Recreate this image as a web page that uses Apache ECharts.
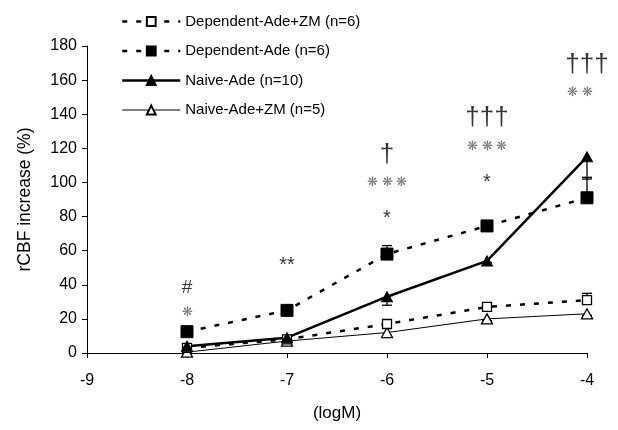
<!DOCTYPE html>
<html><head><meta charset="utf-8">
<script src="https://cdn.jsdelivr.net/npm/echarts@6/dist/echarts.min.js"></script>
<style>html,body{margin:0;padding:0;background:#fff}#c{width:618px;height:430px}</style>
</head><body><div id="c"></div>
<script>
const xValues = [-8, -7, -6, -5, -4];
const depZM = [3, 8, 17, 27, 31];
const depZMErr = [1, 1, 2, 2, 4];
const depAde = [12.5, 25, 58, 74.5, 91];
const depAdeErr = [2, 2, 5, 2, 12];
const naiveAde = [4, 9, 33, 54, 115];
const naiveAdeErr = [1, 2, 5, 1, 13];
const naiveZM = [0.5, 7, 12, 20, 23];
const naiveZMErr = [1, 1, 2, 1, 1];
const seriesNames = ['Dependent-Ade+ZM (n=6)', 'Dependent-Ade (n=6)', 'Naive-Ade (n=10)', 'Naive-Ade+ZM (n=5)'];
const yTicks = [0, 20, 40, 60, 80, 100, 120, 140, 160, 180];
const xTicks = [-9, -8, -7, -6, -5, -4];
// annotations: [x, y, text]
const hashMarks = [[-8, 38, '#']];
const daggerMarks = [[-6, 116, '†'], [-5, 138, '†††'], [-4, 169, '†††']];
const blackStars = [[-7, 51.5, '**'], [-6, 79, '*'], [-5, 100, '*']];
const grayStars = [[-8, 23.5, '❋'], [-6, 100, '❋ ❋ ❋'], [-5, 121, '❋ ❋ ❋'], [-4.07, 152.5, '❋ ❋']];

const FONT = '"Liberation Sans", Arial, sans-serif';
const pts = (arr) => xValues.map((x, i) => [x, arr[i]]);
const errPts = (arr, err) => xValues.map((x, i) => [x, arr[i], err[i]]);
const lineWidths = [2.5, 2.5, 2.5, 1];

function errSeries(name, vals, errs, dir) {
  return {
    type: 'custom', name: name + ' err', silent: true, z: 3,
    data: errPts(vals, errs),
    encode: { x: 0, y: 1 },
    renderItem: function (params, api) {
      const p0 = api.coord([api.value(0), api.value(1)]);
      const p1 = api.coord([api.value(0), api.value(1) + dir * api.value(2)]);
      const st = { stroke: '#000', lineWidth: 1.3 };
      return { type: 'group', children: [
        { type: 'line', shape: { x1: p0[0], y1: p0[1], x2: p1[0], y2: p1[1] }, style: st },
        { type: 'line', shape: { x1: p1[0] - 5, y1: p1[1], x2: p1[0] + 5, y2: p1[1] }, style: st }
      ]};
    }
  };
}
function annSeries(name, data, color, size) {
  return {
    type: 'scatter', name: name, silent: true, symbolSize: 0.1, z: 5,
    itemStyle: { color: 'rgba(0,0,0,0)' },
    data: data, encode: { x: 0, y: 1 },
    label: { show: true, position: 'inside', formatter: p => p.data[2],
      color: color, fontSize: size, fontFamily: FONT }
  };
}

const chart = echarts.init(document.getElementById('c'));
chart.setOption({
  animation: false,
  backgroundColor: '#fff',
  textStyle: { fontFamily: FONT },
  grid: { left: 87, right: 31, top: 46, bottom: 77, containLabel: false },
  legend: {
    data: seriesNames.map((n, i) => ({ name: n, lineStyle: { width: lineWidths[i] } })),
    orient: 'vertical', left: 116, top: 9, itemGap: 14.5,
    itemWidth: 58, itemHeight: 11,
    textStyle: { fontSize: 15, color: '#000', fontFamily: FONT }
  },
  xAxis: {
    type: 'value', min: -9, max: -4, interval: 1,
    name: '(logM)', nameLocation: 'middle', nameGap: 52,
    nameTextStyle: { fontSize: 17, color: '#000', fontFamily: FONT },
    axisLine: { show: true, lineStyle: { color: '#000', width: 1 } },
    axisTick: { show: true, inside: false, length: 5, lineStyle: { color: '#000' } },
    axisLabel: { color: '#000', fontSize: 16, margin: 20, fontFamily: FONT,
      customValues: xTicks, formatter: v => String(v) },
    splitLine: { show: false }
  },
  yAxis: {
    type: 'value', min: 0, max: 180, interval: 20,
    name: 'rCBF increase (%)', nameLocation: 'middle', nameGap: 53, nameRotate: 90,
    nameTextStyle: { fontSize: 17.5, color: '#000', fontFamily: FONT },
    axisLine: { show: true, lineStyle: { color: '#000', width: 1 } },
    axisTick: { show: true, inside: false, length: 5, lineStyle: { color: '#000' } },
    axisLabel: { color: '#000', fontSize: 16, margin: 10, fontFamily: FONT,
      customValues: yTicks, formatter: v => String(v) },
    splitLine: { show: false }
  },
  series: [
    errSeries(seriesNames[0], depZM, depZMErr, 1),
    errSeries(seriesNames[1], depAde, depAdeErr, 1),
    errSeries(seriesNames[2], naiveAde, naiveAdeErr, -1),
    errSeries(seriesNames[3], naiveZM, naiveZMErr, -1),
    { name: seriesNames[3], type: 'line', data: pts(naiveZM), z: 4,
      symbol: 'triangle', symbolSize: [11, 10],
      lineStyle: { color: '#000', width: lineWidths[3] },
      itemStyle: { color: '#fff', borderColor: '#000', borderWidth: 1.3 } },
    { name: seriesNames[0], type: 'line', data: pts(depZM), z: 4,
      symbol: 'rect', symbolSize: 9,
      lineStyle: { color: '#000', width: lineWidths[0], type: [5, 9] },
      itemStyle: { color: '#fff', borderColor: '#000', borderWidth: 1.3 } },
    { name: seriesNames[2], type: 'line', data: pts(naiveAde), z: 4,
      symbol: 'triangle', symbolSize: [11, 10],
      lineStyle: { color: '#000', width: lineWidths[2] },
      itemStyle: { color: '#000', borderColor: '#000', borderWidth: 1 } },
    { name: seriesNames[1], type: 'line', data: pts(depAde), z: 4,
      symbol: 'rect', symbolSize: 12,
      lineStyle: { color: '#000', width: lineWidths[1], type: [5, 9] },
      itemStyle: { color: '#000', borderColor: '#000', borderWidth: 1 } },
    annSeries('hash', hashMarks, '#000', 19),
    annSeries('daggers', daggerMarks, '#000', 26),
    annSeries('blackStars', blackStars, '#000', 20),
    annSeries('grayStars', grayStars, '#555', 13)
  ]
});
</script></body></html>
